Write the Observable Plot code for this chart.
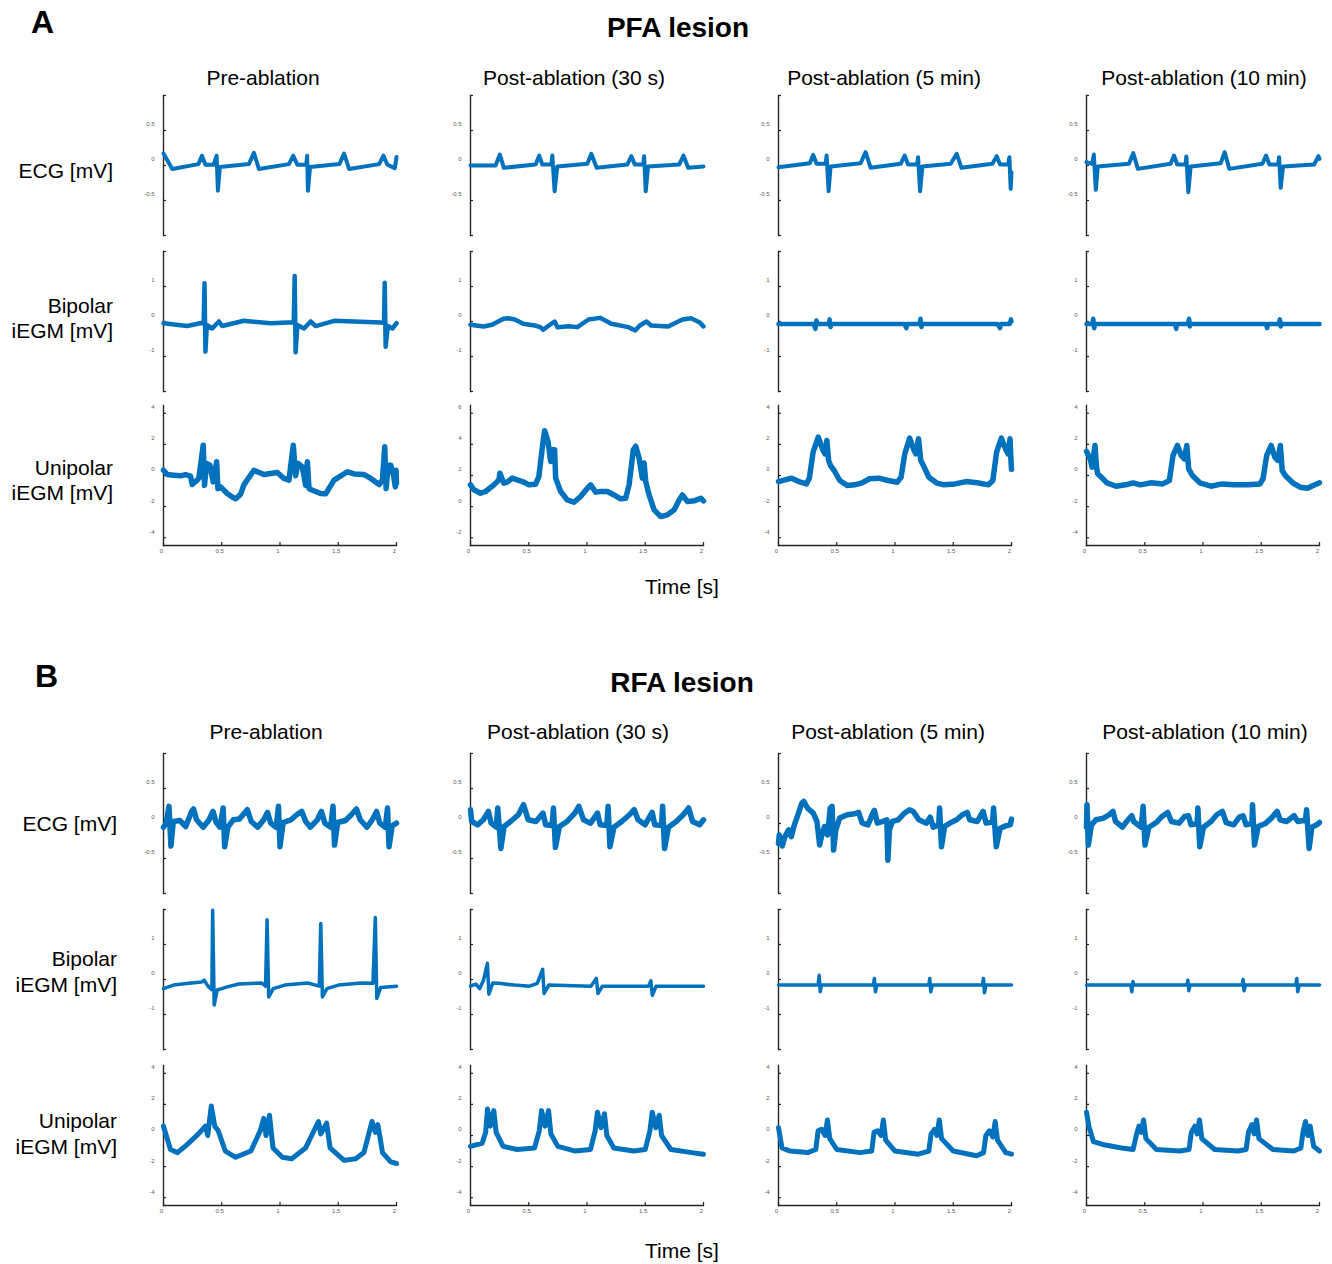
<!DOCTYPE html>
<html>
<head>
<meta charset="utf-8">
<script src="https://cdn.jsdelivr.net/npm/d3@7"></script>
<script src="https://cdn.jsdelivr.net/npm/@observablehq/plot@0.6"></script>
<style>
  body { margin: 0; background: #fff; }
  #fig { position: relative; width: 1332px; height: 1264px; background: #fff; overflow: hidden; }
  #fig .cell { position: absolute; }
  #fig svg.overlay { position: absolute; left: 0; top: 0; pointer-events: none; }
</style>
</head>
<body>
<div id="fig"></div>
<script>
// ---------------------------------------------------------------------------
// Recorded traces, 2 s windows: [time (s), amplitude (mV)]
// ---------------------------------------------------------------------------

// PFA lesion — surface ECG
const pfa_ecg_pre = [[0,0.17],[0.075,-0.05],[0.30,0.02],[0.33,0.14],[0.36,0.01],[0.43,0.01],[0.456,0.14],[0.467,-0.36],[0.484,-0.02],[0.733,0.02],[0.776,0.18],[0.819,-0.05],[1.077,0.02],[1.114,0.14],[1.149,0.01],[1.225,0.01],[1.233,0.14],[1.240,-0.36],[1.258,-0.02],[1.51,0.02],[1.55,0.17],[1.593,-0.05],[1.851,0.02],[1.888,0.14],[1.922,0.01],[1.975,-0.03],[1.985,-0.04],[2.0,0.12]];
const pfa_ecg_30s = [[0,0],[0.215,0],[0.252,0.157],[0.286,-0.033],[0.559,0.014],[0.590,0.143],[0.616,0.014],[0.695,0.014],[0.702,0.143],[0.722,-0.367],[0.745,-0.014],[1.003,0.024],[1.037,0.167],[1.083,-0.033],[1.346,0.014],[1.381,0.133],[1.410,0.014],[1.483,0.014],[1.490,0.133],[1.504,-0.367],[1.524,-0.014],[1.791,0.014],[1.828,0.143],[1.868,-0.033],[2.0,-0.014]];
const pfa_ecg_5min = [[0,-0.024],[0.269,0.033],[0.298,0.152],[0.327,0.024],[0.405,0.024],[0.413,0.143],[0.430,-0.367],[0.447,-0.014],[0.705,0.033],[0.748,0.19],[0.791,-0.033],[1.049,0.024],[1.083,0.143],[1.112,0.014],[1.19,0.014],[1.198,0.119],[1.215,-0.367],[1.235,-0.014],[1.478,0.024],[1.530,0.167],[1.570,-0.033],[1.836,0.024],[1.873,0.133],[1.902,0.014],[1.972,0.014],[1.982,0.119],[1.993,-0.333],[2.0,-0.095]];
const pfa_ecg_10min = [[0,0.048],[0.049,0.024],[0.063,0.157],[0.080,-0.348],[0.097,-0.014],[0.364,0.024],[0.401,0.176],[0.441,-0.048],[0.722,0.024],[0.751,0.143],[0.779,0.014],[0.85,0.014],[0.857,0.129],[0.874,-0.381],[0.894,-0.014],[1.152,0.033],[1.186,0.19],[1.226,-0.048],[1.510,0.024],[1.541,0.143],[1.570,0.014],[1.646,0.014],[1.653,0.119],[1.667,-0.319],[1.687,-0.014],[1.954,0.014],[1.991,0.133],[2.0,0.095]];

// PFA lesion — bipolar intracardiac electrogram
const pfa_bip_pre = [[0,-0.05],[0.203,-0.13],[0.345,-0.03],[0.352,1.09],[0.360,-0.86],[0.372,-0.10],[0.418,-0.20],[0.476,0.0],[0.504,-0.13],[0.690,0.02],[0.920,-0.05],[1.118,-0.02],[1.126,1.30],[1.134,-0.88],[1.149,-0.10],[1.206,-0.20],[1.263,0.0],[1.306,-0.13],[1.464,0.02],[1.865,-0.03],[1.893,-0.04],[1.899,1.11],[1.907,-0.72],[1.925,-0.13],[1.965,-0.20],[2.0,-0.05]];
const pfa_bip_30s = [[0,-0.095],[0.112,-0.142],[0.185,-0.095],[0.283,0.076],[0.322,0.095],[0.380,0.057],[0.453,-0.066],[0.551,-0.114],[0.600,-0.161],[0.624,-0.237],[0.673,-0.114],[0.722,0],[0.746,-0.161],[0.843,-0.133],[0.917,-0.161],[1.014,0.057],[1.112,0.104],[1.209,-0.066],[1.355,-0.161],[1.414,-0.256],[1.453,-0.114],[1.511,0],[1.550,-0.114],[1.697,-0.142],[1.819,0.057],[1.892,0.095],[1.965,-0.019],[2.0,-0.142]];
const pfa_bip_5min = [[0,-0.07],[0.30,-0.07],[0.317,-0.21],[0.325,0.03],[0.335,-0.07],[0.43,-0.07],[0.439,0.06],[0.447,-0.16],[0.455,-0.07],[1.08,-0.07],[1.097,-0.19],[1.105,-0.07],[1.21,-0.07],[1.219,0.08],[1.227,-0.16],[1.235,-0.07],[1.88,-0.07],[1.901,-0.19],[1.91,-0.07],[1.985,-0.07],[1.995,0.06],[2.0,0.0]];
const pfa_bip_10min = [[0,-0.07],[0.05,-0.07],[0.058,0.08],[0.066,-0.19],[0.075,-0.07],[0.76,-0.07],[0.77,-0.21],[0.778,-0.07],[0.87,-0.07],[0.88,0.08],[0.888,-0.14],[0.895,-0.07],[1.54,-0.07],[1.55,-0.19],[1.558,-0.07],[1.65,-0.07],[1.66,0.06],[1.668,-0.14],[1.675,-0.07],[2.0,-0.07]];

// PFA lesion — unipolar intracardiac electrogram
const pfa_uni_pre = [[0,0.34],[0.032,0.06],[0.089,0.02],[0.146,-0.02],[0.189,0.06],[0.232,-0.04],[0.246,-0.58],[0.289,-0.30],[0.304,-0.15],[0.341,1.95],[0.352,-0.63],[0.370,0.77],[0.398,0.66],[0.427,-0.41],[0.456,0.88],[0.467,-0.84],[0.490,-0.73],[0.547,-1.16],[0.590,-1.38],[0.620,-1.49],[0.662,-1.2],[0.690,-0.6],[0.776,0.34],[0.862,0.06],[0.977,0.19],[1.034,-0.19],[1.077,-0.30],[1.114,1.95],[1.134,-0.02],[1.155,0.77],[1.192,0.55],[1.220,-0.63],[1.235,0.88],[1.249,-0.84],[1.278,-0.95],[1.349,-1.16],[1.392,-1.18],[1.464,-0.30],[1.579,0.24],[1.636,0.10],[1.722,0.06],[1.779,-0.19],[1.851,-0.58],[1.879,-0.30],[1.899,1.85],[1.911,-0.84],[1.928,0.66],[1.951,0.66],[1.974,0.02],[1.990,-0.73],[1.996,0.34],[2.0,-0.5]];
const pfa_uni_30s = [[0,1.40],[0.029,1.08],[0.086,0.86],[0.129,0.97],[0.201,1.40],[0.244,1.72],[0.252,2.15],[0.286,1.51],[0.315,1.57],[0.358,1.83],[0.401,1.72],[0.458,1.57],[0.501,1.40],[0.559,1.44],[0.587,1.94],[0.616,3.77],[0.636,4.88],[0.665,4.20],[0.688,2.90],[0.702,3.66],[0.722,3.66],[0.731,1.83],[0.774,0.97],[0.831,0.43],[0.888,0.28],[0.945,0.65],[1.003,1.18],[1.031,1.40],[1.074,0.93],[1.117,0.97],[1.175,0.97],[1.232,0.75],[1.289,0.50],[1.332,0.54],[1.361,1.40],[1.398,3.66],[1.418,3.88],[1.447,3.12],[1.475,1.83],[1.490,2.80],[1.504,1.62],[1.533,0.75],[1.576,-0.21],[1.633,-0.64],[1.690,-0.53],[1.748,-0.21],[1.791,0.43],[1.819,0.75],[1.862,0.32],[1.920,0.37],[1.977,0.54],[2.0,0.37]];
const pfa_uni_5min = [[0,-0.39],[0.064,-0.26],[0.112,-0.17],[0.175,-0.39],[0.239,-0.54],[0.265,-0.17],[0.297,1.50],[0.341,2.47],[0.383,1.61],[0.399,1.39],[0.415,2.25],[0.430,0.97],[0.446,0.64],[0.478,0.32],[0.526,-0.32],[0.590,-0.64],[0.654,-0.60],[0.717,-0.47],[0.781,-0.21],[0.861,-0.17],[0.941,-0.32],[1.020,-0.43],[1.052,-0.11],[1.084,1.39],[1.126,2.40],[1.164,1.61],[1.180,1.39],[1.202,2.36],[1.221,0.97],[1.244,0.64],[1.291,-0.11],[1.355,-0.47],[1.419,-0.60],[1.515,-0.54],[1.610,-0.39],[1.706,-0.47],[1.802,-0.60],[1.840,-0.32],[1.872,1.50],[1.913,2.40],[1.955,1.61],[1.971,1.39],[1.987,2.36],[1.996,0.9],[2.0,0.4]];
const pfa_uni_10min = [[0,1.55],[0.032,1.07],[0.048,0.54],[0.073,1.93],[0.086,0.54],[0.096,0.11],[0.128,-0.11],[0.175,-0.47],[0.255,-0.69],[0.335,-0.60],[0.399,-0.47],[0.462,-0.60],[0.558,-0.47],[0.654,-0.54],[0.711,-0.32],[0.743,1.29],[0.781,1.93],[0.813,1.29],[0.839,1.07],[0.861,1.93],[0.877,0.43],[0.909,0],[0.973,-0.47],[1.068,-0.69],[1.164,-0.54],[1.260,-0.60],[1.387,-0.60],[1.489,-0.54],[1.515,-0.21],[1.547,1.29],[1.585,1.93],[1.617,1.18],[1.642,0.97],[1.664,1.93],[1.680,0.32],[1.706,0],[1.770,-0.47],[1.834,-0.75],[1.897,-0.82],[1.945,-0.64],[2.0,-0.47]];

// RFA lesion — surface ECG
const rfa_ecg_pre = [[0,-0.053],[0.023,0.005],[0.047,0.245],[0.064,-0.322],[0.084,0.029],[0.140,0.043],[0.191,-0.043],[0.241,0.173],[0.258,0.207],[0.284,0.053],[0.341,-0.053],[0.391,0.053],[0.425,0.173],[0.452,0.014],[0.485,-0.053],[0.512,0.221],[0.525,-0.332],[0.552,-0.053],[0.599,0.053],[0.652,0.063],[0.719,0.197],[0.753,0.029],[0.809,-0.053],[0.860,0.053],[0.893,0.159],[0.920,0.005],[0.967,-0.053],[0.987,0.245],[1.000,-0.332],[1.027,0.014],[1.094,0.053],[1.144,0.125],[1.187,0.173],[1.221,0.029],[1.261,-0.053],[1.321,0.053],[1.355,0.173],[1.385,0.005],[1.435,-0.053],[1.455,0.245],[1.468,-0.308],[1.495,0.014],[1.562,0.043],[1.612,0.125],[1.656,0.207],[1.689,0.053],[1.746,-0.053],[1.796,0.063],[1.829,0.173],[1.856,0.005],[1.903,-0.053],[1.923,0.221],[1.936,-0.332],[1.963,-0.034],[2.0,0.005]];
const rfa_ecg_30s = [[0,0.197],[0.010,0.029],[0.060,-0.019],[0.110,0.053],[0.154,0.173],[0.177,0.005],[0.221,-0.053],[0.234,0.221],[0.261,-0.356],[0.288,-0.043],[0.344,0.029],[0.411,0.125],[0.455,0.269],[0.495,0.053],[0.562,0.029],[0.622,0.149],[0.645,-0.019],[0.700,-0.03],[0.712,0.221],[0.729,-0.341],[0.763,-0.043],[0.829,0.029],[0.896,0.149],[0.930,0.245],[0.970,0.053],[1.030,0.005],[1.090,0.149],[1.114,-0.019],[1.17,-0.03],[1.181,0.245],[1.197,-0.332],[1.231,-0.053],[1.298,0.029],[1.365,0.125],[1.405,0.197],[1.438,0.053],[1.498,-0.019],[1.559,0.159],[1.582,-0.019],[1.64,-0.03],[1.649,0.245],[1.666,-0.356],[1.699,-0.053],[1.766,0.029],[1.826,0.125],[1.873,0.221],[1.906,0.029],[1.967,-0.019],[2.0,0.053]];
const rfa_ecg_5min = [[0,-0.284],[0.006,-0.163],[0.032,-0.322],[0.055,-0.188],[0.087,-0.091],[0.110,-0.188],[0.136,-0.019],[0.162,0.101],[0.201,0.293],[0.217,0.317],[0.249,0.221],[0.298,0.149],[0.330,0.029],[0.353,-0.308],[0.369,-0.188],[0.395,-0.043],[0.421,-0.163],[0.444,0.221],[0.460,0.245],[0.473,-0.380],[0.492,-0.091],[0.525,0.077],[0.590,0.125],[0.654,0.139],[0.687,0.159],[0.719,0.005],[0.768,-0.019],[0.810,0.149],[0.823,0.188],[0.849,0.005],[0.897,0.029],[0.930,0.053],[0.939,-0.524],[0.952,-0.091],[0.978,0.029],[1.027,0.053],[1.075,0.139],[1.124,0.197],[1.156,0.173],[1.205,0.053],[1.270,0.005],[1.302,0.091],[1.328,-0.053],[1.375,-0.02],[1.383,0.221],[1.399,-0.332],[1.425,-0.043],[1.480,0.014],[1.529,0.053],[1.578,0.125],[1.620,0.159],[1.642,0.053],[1.707,0.029],[1.756,0.173],[1.782,0.005],[1.838,0.02],[1.846,0.221],[1.869,-0.332],[1.902,-0.067],[1.950,-0.034],[1.989,-0.019],[2.0,0.063]];
const rfa_ecg_10min = [[0,-0.053],[0.004,0.269],[0.016,-0.308],[0.042,-0.019],[0.081,0.053],[0.146,0.077],[0.194,0.125],[0.227,0.173],[0.249,0.029],[0.308,-0.053],[0.356,0.053],[0.389,0.111],[0.405,0.029],[0.470,-0.053],[0.486,0.245],[0.502,-0.308],[0.535,-0.053],[0.599,0.014],[0.648,0.101],[0.697,0.159],[0.729,0.029],[0.794,0.005],[0.842,0.101],[0.875,0.111],[0.897,-0.019],[0.950,0.0],[0.956,0.221],[0.972,-0.332],[1.004,-0.053],[1.069,0.029],[1.118,0.125],[1.166,0.173],[1.199,0.014],[1.263,-0.019],[1.312,0.091],[1.344,0.111],[1.370,-0.019],[1.42,0.0],[1.425,0.269],[1.442,-0.308],[1.474,-0.043],[1.539,0.005],[1.587,0.077],[1.636,0.173],[1.662,0.053],[1.717,0.029],[1.782,0.111],[1.814,0.029],[1.88,0.05],[1.889,0.197],[1.911,-0.356],[1.934,-0.053],[1.976,-0.019],[2.0,0.014]];

// RFA lesion — bipolar intracardiac electrogram
const rfa_bip_pre = [[0,-0.26],[0.086,-0.16],[0.217,-0.11],[0.329,-0.07],[0.349,-0.02],[0.382,-0.19],[0.415,-0.29],[0.422,1.98],[0.435,-0.73],[0.461,-0.30],[0.547,-0.21],[0.646,-0.13],[0.843,-0.10],[0.876,-0.19],[0.889,1.71],[0.903,-0.50],[0.942,-0.26],[1.041,-0.16],[1.238,-0.10],[1.337,-0.19],[1.350,1.60],[1.364,-0.50],[1.403,-0.26],[1.502,-0.16],[1.700,-0.10],[1.798,-0.11],[1.818,1.77],[1.831,-0.54],[1.864,-0.23],[2.0,-0.19]];
const rfa_bip_30s = [[0,-0.19],[0.046,-0.13],[0.079,-0.26],[0.112,-0.02],[0.145,0.46],[0.158,-0.42],[0.191,-0.10],[0.244,-0.11],[0.375,-0.16],[0.507,-0.19],[0.573,-0.11],[0.619,0.29],[0.632,-0.40],[0.672,-0.16],[1.034,-0.19],[1.080,0.03],[1.094,-0.40],[1.133,-0.19],[1.528,-0.19],[1.548,-0.04],[1.561,-0.45],[1.594,-0.19],[2.0,-0.19]];
const rfa_bip_5min = [[0,-0.16],[0.34,-0.16],[0.349,0.12],[0.358,-0.35],[0.37,-0.16],[0.815,-0.16],[0.823,0.03],[0.832,-0.35],[0.845,-0.16],[1.29,-0.16],[1.298,0.03],[1.307,-0.35],[1.32,-0.16],[1.75,-0.16],[1.759,0.03],[1.768,-0.38],[1.78,-0.16],[2.0,-0.16]];
const rfa_bip_10min = [[0,-0.16],[0.38,-0.16],[0.389,-0.35],[0.398,-0.06],[0.41,-0.16],[0.862,-0.16],[0.870,-0.02],[0.878,-0.32],[0.89,-0.16],[1.336,-0.16],[1.344,0.0],[1.352,-0.32],[1.365,-0.16],[1.797,-0.16],[1.805,0.03],[1.813,-0.35],[1.825,-0.16],[2.0,-0.16]];

// RFA lesion — unipolar intracardiac electrogram
const rfa_uni_pre = [[0,0.6],[0.06,-0.9],[0.12,-1.1],[0.2,-0.6],[0.3,0.1],[0.36,0.6],[0.38,0.0],[0.41,1.9],[0.44,0.6],[0.47,0.3],[0.53,-1.0],[0.62,-1.4],[0.75,-1.0],[0.83,0.3],[0.86,1.1],[0.88,0.0],[0.91,1.3],[0.94,-0.8],[1.02,-1.4],[1.1,-1.5],[1.22,-0.8],[1.33,0.9],[1.35,0.1],[1.4,0.8],[1.43,-0.8],[1.55,-1.6],[1.65,-1.5],[1.72,-1.1],[1.79,0.9],[1.82,0.2],[1.84,0.7],[1.88,-1.1],[1.95,-1.7],[2.0,-1.8]];
const rfa_uni_30s = [[0,-0.7],[0.1,-0.5],[0.13,0.2],[0.146,1.7],[0.17,0.6],[0.2,1.6],[0.22,0.2],[0.28,-0.7],[0.4,-0.9],[0.55,-0.8],[0.59,0.3],[0.61,1.6],[0.64,0.6],[0.67,1.6],[0.69,0.1],[0.75,-0.7],[0.9,-1.0],[1.03,-0.9],[1.07,0.3],[1.09,1.5],[1.12,0.5],[1.15,1.4],[1.17,0.0],[1.23,-0.8],[1.4,-1.0],[1.5,-0.9],[1.54,0.3],[1.56,1.5],[1.59,0.5],[1.62,1.3],[1.64,0.0],[1.72,-0.9],[1.9,-1.1],[2.0,-1.2]];
const rfa_uni_5min = [[0,0.5],[0.03,-0.8],[0.1,-1.0],[0.25,-1.1],[0.32,-0.9],[0.34,0.3],[0.37,0.4],[0.40,0.0],[0.42,1.0],[0.44,-0.2],[0.5,-0.9],[0.7,-1.1],[0.8,-1.0],[0.82,0.2],[0.85,0.3],[0.88,0.0],[0.9,1.0],[0.92,-0.3],[1.0,-1.0],[1.2,-1.2],[1.29,-1.0],[1.31,0.1],[1.34,0.4],[1.36,0.0],[1.38,1.0],[1.40,-0.2],[1.5,-1.0],[1.7,-1.3],[1.76,-1.1],[1.78,0.0],[1.81,0.3],[1.84,-0.1],[1.86,0.9],[1.88,-0.3],[1.95,-1.1],[2.0,-1.2]];
const rfa_uni_10min = [[0,1.5],[0.02,0.6],[0.06,-0.4],[0.15,-0.6],[0.3,-0.8],[0.4,-0.9],[0.43,0.1],[0.45,0.6],[0.47,0.2],[0.49,1.0],[0.51,-0.2],[0.6,-0.9],[0.8,-1.0],[0.88,-0.9],[0.9,0.2],[0.93,0.6],[0.95,0.1],[0.97,1.0],[0.99,-0.2],[1.1,-0.9],[1.3,-1.0],[1.37,-0.9],[1.39,0.2],[1.42,0.7],[1.44,0.1],[1.46,1.0],[1.48,-0.2],[1.6,-0.9],[1.78,-1.0],[1.84,-0.8],[1.86,0.3],[1.88,0.9],[1.90,0.0],[1.92,0.6],[1.95,-0.7],[2.0,-1.0]];

// Tick values and labels
const timeTicks = [0, 0.5, 1, 1.5, 2];
const ecgTicks = [-1, -0.5, 0, 0.5, 1];
const ecgTickLabels = [-0.5, 0, 0.5];
const bipTicks = [-2, -1, 0, 1, 2];
const bipTickLabels = [-1, 0, 1];
const uniTicks = [-4, -2, 0, 2, 4];
const uniTicksRaised = [-2, 0, 2, 4, 6];

// Text
const columnTitles = ["Pre-ablation", "Post-ablation (30 s)", "Post-ablation (5 min)", "Post-ablation (10 min)"];
const rowLabels = [["ECG [mV]"], ["Bipolar", "iEGM [mV]"], ["Unipolar", "iEGM [mV]"]];
const panelTitles = ["PFA lesion", "RFA lesion"];
const panelLetters = ["A", "B"];
const timeLabel = "Time [s]";

// ---------------------------------------------------------------------------
// Layout
// ---------------------------------------------------------------------------
const TRACE = "#0072BD", AXIS = "#262626", TICKTEXT = "#5a5a5a";
const FONT = "'Liberation Sans', Arial, Helvetica, sans-serif";
const PW = 233, PH = 140;                 // plot frame size
const ML = 34, MR = 8, MT = 8, MB = 16;   // svg margins around the frame
const colLeft = [163, 470, 778, 1086];
const rowTop = [[95, 251, 405], [753, 909, 1065]];

const panelsTraces = [
  [[pfa_ecg_pre, pfa_ecg_30s, pfa_ecg_5min, pfa_ecg_10min],
   [pfa_bip_pre, pfa_bip_30s, pfa_bip_5min, pfa_bip_10min],
   [pfa_uni_pre, pfa_uni_30s, pfa_uni_5min, pfa_uni_10min]],
  [[rfa_ecg_pre, rfa_ecg_30s, rfa_ecg_5min, rfa_ecg_10min],
   [rfa_bip_pre, rfa_bip_30s, rfa_bip_5min, rfa_bip_10min],
   [rfa_uni_pre, rfa_uni_30s, rfa_uni_5min, rfa_uni_10min]]
];

function yScaleFor(panel, row, col) {
  if (row === 0) return {domain: [-1, 1], ticks: ecgTicks, labels: ecgTickLabels};
  if (row === 1) return {domain: [-2, 2], ticks: bipTicks, labels: bipTickLabels};
  if (panel === 0 && col === 1) return {domain: [-2.5, 6.5], ticks: uniTicksRaised, labels: uniTicksRaised};
  return {domain: [-4.5, 4.5], ticks: uniTicks, labels: uniTicks};
}

const strokeWidths = [[4, 4.5, 5.5], [5.5, 3.5, 5]];

function cell(data, sc, showX, sw) {
  return Plot.plot({
    width: ML + PW + MR,
    height: MT + PH + MB,
    marginLeft: ML, marginRight: MR, marginTop: MT, marginBottom: MB,
    style: {background: "transparent", overflow: "visible", fontFamily: FONT},
    x: {domain: [0, 2], axis: null},
    y: {domain: sc.domain, axis: null},
    marks: [
      Plot.axisY(sc.ticks, {tickSize: -3, tickFormat: () => "", stroke: AXIS, strokeWidth: 1.2}),
      Plot.axisY(sc.labels, {tickSize: 0, tickPadding: 9, dy: -6, tickFormat: d => String(d),
                             fontSize: 6, fill: TICKTEXT, stroke: "none"}),
      showX ? Plot.axisX(timeTicks, {tickSize: -3, tickFormat: () => "", stroke: AXIS, strokeWidth: 1.2}) : null,
      showX ? Plot.axisX(timeTicks, {tickSize: 0, tickPadding: 3, dx: -2, tickFormat: d => String(d),
                                     fontSize: 6, fill: TICKTEXT, stroke: "none"}) : null,
      showX ? Plot.frame({anchor: "bottom", stroke: AXIS, strokeWidth: 1.4}) : null,
      Plot.frame({anchor: "left", stroke: AXIS, strokeWidth: 1.4}),
      Plot.line(data, {x: d => d[0], y: d => d[1], stroke: TRACE, strokeWidth: sw,
                       strokeLinejoin: "round", strokeLinecap: "round"})
    ]
  });
}

const fig = document.getElementById("fig");
panelsTraces.forEach((rows, p) => {
  rows.forEach((traces, r) => {
    traces.forEach((data, c) => {
      const svg = cell(data, yScaleFor(p, r, c), r === 2, strokeWidths[p][r]);
      const holder = document.createElement("div");
      holder.className = "cell";
      holder.style.left = (colLeft[c] - ML) + "px";
      holder.style.top = (rowTop[p][r] - MT) + "px";
      holder.appendChild(svg);
      fig.appendChild(holder);
    });
  });
});

// Titles and labels
const overlay = d3.select(fig).append("svg")
  .attr("class", "overlay").attr("width", 1332).attr("height", 1264)
  .style("font-family", FONT).attr("fill", "#000");

const letterPos = [[31, 33], [35, 687]];
const titlePos = [[678, 37], [682, 692]];
const colTitleX = [[263, 574, 884, 1204], [266, 578, 888, 1205]];
const colTitleY = [85, 739];
const rowLabelRight = [113, 117];
const rowLabelBaselines = [[[178], [313, 338], [475, 500]], [[831], [966, 992], [1128, 1154]]];
const timeLabelY = [594, 1258];

[0, 1].forEach(p => {
  overlay.append("text").attr("x", letterPos[p][0]).attr("y", letterPos[p][1])
    .attr("font-size", 32).attr("font-weight", "bold").text(panelLetters[p]);
  overlay.append("text").attr("x", titlePos[p][0]).attr("y", titlePos[p][1])
    .attr("text-anchor", "middle").attr("font-size", 28).attr("font-weight", "bold").text(panelTitles[p]);
  columnTitles.forEach((t, c) => {
    overlay.append("text").attr("x", colTitleX[p][c]).attr("y", colTitleY[p])
      .attr("text-anchor", "middle").attr("font-size", 21).text(t);
  });
  rowLabels.forEach((lines, r) => {
    lines.forEach((line, i) => {
      overlay.append("text").attr("x", rowLabelRight[p]).attr("y", rowLabelBaselines[p][r][i])
        .attr("text-anchor", "end").attr("font-size", 21).text(line);
    });
  });
  overlay.append("text").attr("x", 682).attr("y", timeLabelY[p])
    .attr("text-anchor", "middle").attr("font-size", 21).text(timeLabel);
});
</script>
</body>
</html>
